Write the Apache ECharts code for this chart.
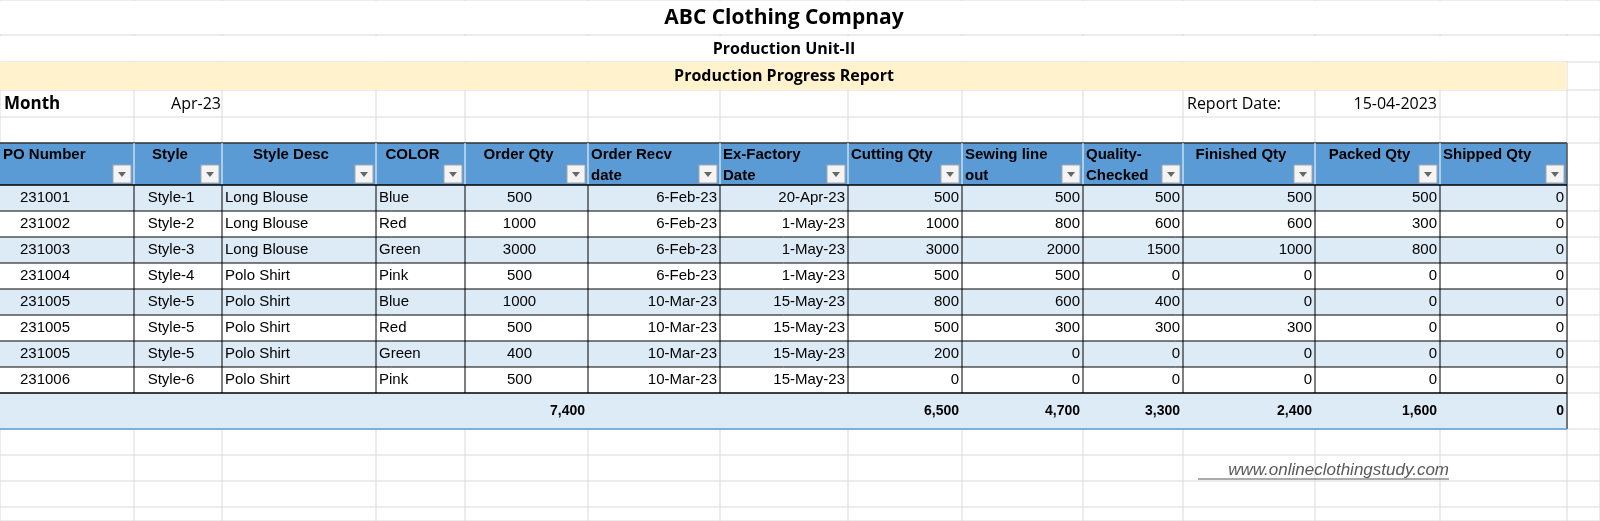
<!DOCTYPE html><html><head><meta charset="utf-8">
<script src="https://cdn.jsdelivr.net/npm/echarts@6/dist/echarts.min.js"></script>
<style>html,body{margin:0;padding:0;background:#fff;overflow:hidden}#c{width:1600px;height:521px}</style></head><body><div id="c"></div>
<script>
const title="ABC Clothing Compnay", subtitle="Production Unit-II", reportTitle="Production Progress Report";
const monthLabel="Month", monthValue="Apr-23", reportDateLabel="Report Date:", reportDate="15-04-2023";
const headers=[["PO Number"],["Style"],["Style Desc"],["COLOR"],["Order Qty"],["Order Recv","date"],["Ex-Factory","Date"],["Cutting Qty"],["Sewing line","out"],["Quality-","Checked"],["Finished Qty"],["Packed Qty"],["Shipped Qty"]];
const poNumbers=["231001","231002","231003","231004","231005","231005","231005","231006"];
const styles=["Style-1","Style-2","Style-3","Style-4","Style-5","Style-5","Style-5","Style-6"];
const styleDesc=["Long Blouse","Long Blouse","Long Blouse","Polo Shirt","Polo Shirt","Polo Shirt","Polo Shirt","Polo Shirt"];
const colors=["Blue","Red","Green","Pink","Blue","Red","Green","Pink"];
const orderQty=[500,1000,3000,500,1000,500,400,500];
const orderRecv=["6-Feb-23","6-Feb-23","6-Feb-23","6-Feb-23","10-Mar-23","10-Mar-23","10-Mar-23","10-Mar-23"];
const exFactory=["20-Apr-23","1-May-23","1-May-23","1-May-23","15-May-23","15-May-23","15-May-23","15-May-23"];
const cuttingQty=[500,1000,3000,500,800,500,200,0];
const sewingQty=[500,800,2000,500,600,300,0,0];
const qcQty=[500,600,1500,0,400,300,0,0];
const finishedQty=[500,600,1000,0,0,300,0,0];
const packedQty=[500,300,800,0,0,0,0,0];
const shippedQty=[0,0,0,0,0,0,0,0];
const totals=["","","","","7,400","","","6,500","4,700","3,300","2,400","1,600","0"];
const website="www.onlineclothingstudy.com";

const colX=[0,134,222,376,465,588,720,848,962,1083,1183,1315,1440,1567,1600];
const rowY=[0,35,62,90,117,143,185,211,237,263,289,315,341,367,393,429,455,481,507,521];
const hAlign=['left','c','c','c','c','left','left','left','left','left','c','c','left'];
const dAlign=['l20','c','left','left','c','right','right','right','right','right','right','right','right'];
const FONT='"Liberation Sans", Arial, sans-serif', TFONT='"Open Sans","Noto Sans",sans-serif';

const chart=echarts.init(document.getElementById('c'));
function render(params,api){
  const P=(x,y)=>api.coord([x,y]);
  const ch=[];
  const rect=(x0,y0,x1,y1,fill,stroke,lw)=>{const a=P(x0,y0),b=P(x1,y1);ch.push({type:'rect',shape:{x:a[0],y:a[1],width:b[0]-a[0],height:b[1]-a[1]},style:{fill:fill||'none',stroke:stroke||null,lineWidth:lw||0}});};
  const line=(x0,y0,x1,y1,c,w)=>{const a=P(x0,y0),b=P(x1,y1);ch.push({type:'line',shape:{x1:a[0],y1:a[1],x2:b[0],y2:b[1]},style:{stroke:c,lineWidth:w||1}});};
  const text=(s,x,y,align,font,size,weight,color,fs)=>{const a=P(x,y);ch.push({type:'text',x:a[0],y:a[1],style:{text:s,align:align,verticalAlign:'middle',fontFamily:font,fontSize:size,fontWeight:weight||'normal',fontStyle:fs||'normal',fill:color||'#000'}});};
  for(const x of colX) line(x,0,x,521,'#d9d9d9',1);
  for(const y of rowY) line(0,y,1600,y,'#d9d9d9',1);
  rect(0,1,1600,34,'#fff');rect(0,36,1600,61,'#fff');
  rect(0,62,1567,90,'#fff2cc');
  text(title,784,18,'center',TFONT,21,'bold');
  text(subtitle,784,49,'center',TFONT,16,'bold');
  text(reportTitle,784,76,'center',TFONT,16,'bold');
  text(monthLabel,4,104,'left',TFONT,17,'bold');
  text(monthValue,221,104,'right',TFONT,16);
  text(reportDateLabel,1187,104,'left',TFONT,16);
  text(reportDate,1437,104,'right',TFONT,16);
  const hdrY0=rowY[5],hdrY1=rowY[6];
  rect(0,hdrY0,1567,hdrY1,'#5b9bd5');
  line(0,hdrY0,1567,hdrY0,'#333',1.5);
  for(let c=0;c<13;c++){
    const x0=colX[c],x1=colX[c+1];
    line(x1,hdrY0,x1,hdrY1,'#ffffff',1);
    headers[c].forEach((s,i)=>{
      if(hAlign[c]==='c') text(s,(x0+x1)/2-8,155+i*21,'center',FONT,15,'bold');
      else text(s,x0+3,155+i*21,'left',FONT,15,'bold');
    });
    rect(x1-21,hdrY1-20,x1-3,hdrY1-2,'#f4f4f4','#a6a6a6',1);
    const a=P(x1-16,hdrY1-13),b=P(x1-8,hdrY1-13),m=P(x1-12,hdrY1-8);
    ch.push({type:'polygon',shape:{points:[a,b,m]},style:{fill:'#666'}});
  }
  const cols=[poNumbers,styles,styleDesc,colors,orderQty,orderRecv,exFactory,cuttingQty,sewingQty,qcQty,finishedQty,packedQty,shippedQty];
  for(let r=0;r<poNumbers.length;r++){
    const y0=rowY[6+r],y1=rowY[7+r],ym=(y0+y1)/2;
    rect(0,y0,1567,y1,r%2===0?'#ddebf7':'#ffffff');
    for(let c=0;c<13;c++){
      const x0=colX[c],x1=colX[c+1],v=String(cols[c][r]),al=dAlign[c];
      if(al==='l20') text(v,x0+20,ym,'left',FONT,15);
      else if(al==='c') text(v,(x0+x1)/2-7,ym,'center',FONT,15);
      else if(al==='left') text(v,x0+3,ym,'left',FONT,15);
      else text(v,x1-3,ym,'right',FONT,15);
    }
  }
  const ty0=rowY[14],ty1=rowY[15];
  rect(0,ty0,1567,ty1,'#ddebf7');
  totals.forEach((v,c)=>{ if(v) text(v,colX[c+1]-3,(ty0+ty1)/2,'right',FONT,14,'bold'); });
  for(let c=1;c<13;c++) line(colX[c],rowY[6],colX[c],rowY[14],'#000',1);
  line(1567,hdrY0,1567,ty1,'#000',1);
  for(let i=6;i<=14;i++) line(0,rowY[i],1567,rowY[i],'#000',i===6||i===14?1.5:1);
  line(0,ty1,1567,ty1,'#5b9bd5',1.5);
  text(website,1449,470,'right',FONT,17,'normal','#595959','italic');
  line(1198,479,1449,479,'#595959',1);
  return {type:'group',children:ch};
}
chart.setOption({
  animation:false,
  grid:{left:0,right:0,top:0,bottom:0},
  xAxis:{type:'value',min:0,max:1600,show:false},
  yAxis:{type:'value',min:0,max:521,inverse:true,show:false},
  series:[{type:'custom',renderItem:render,data:[[0,0]],silent:true,clip:false}]
});
</script></body></html>
